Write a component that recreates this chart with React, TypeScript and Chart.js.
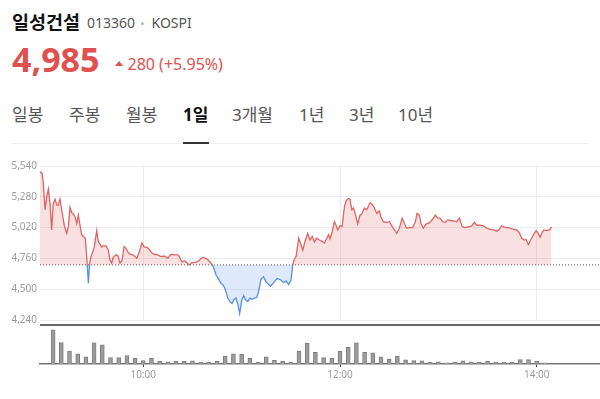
import React, { useEffect, useRef } from "react";
import { Chart, registerables } from "chart.js";

Chart.register(...registerables);

// ---------------- data ----------------
const STOCK_NAME = "일성건설";
const STOCK_CODE = "013360";
const MARKET = "KOSPI";
const LAST_PRICE = "4,985";
const CHANGE_TEXT = "280 (+5.95%)";
const PREV_CLOSE = 4705;

const TABS = ["일봉", "주봉", "월봉", "1일", "3개월", "1년", "3년", "10년"];
const ACTIVE_TAB = "1일";

// minutes relative to 09:00
const PRICE_TIMES = [
  -3.0, -1.8, -1.0, 0.1, 1.1, 2.1, 3.1, 4.1, 5.1, 6.2, 7.2, 8.2, 9.2, 10.2, 11.8, 13.3, 14.3, 15.3, 16.3, 17.3,
  18.4, 19.4, 20.4, 21.4, 22.4, 23.4, 24.6, 25.5, 26.5, 27.3, 28.1, 29.2, 30.1, 31.6, 32.6, 33.6, 34.6, 35.6, 37.3, 38.7,
  39.7, 40.7, 41.7, 43.4, 44.6, 45.8, 47.0, 48.3, 49.5, 50.5, 51.9, 53.6, 55.0, 56.0, 57.6, 59.2, 60.6, 62.1, 63.7, 65.3,
  66.7, 68.8, 70.8, 72.8, 74.9, 76.9, 78.9, 81.0, 82.0, 83.6, 85.0, 86.5, 88.1, 89.6, 91.1, 92.6, 94.2, 96.3, 97.9, 99.3,
  100.7, 101.9, 102.7, 104.4, 106.0, 107.4, 108.8, 110.1, 111.5, 112.9, 114.1, 115.5, 116.6, 117.8, 118.8, 120.1, 121.3, 122.3, 123.7, 125.1,
  126.3, 127.7, 129.2, 130.4, 131.8, 133.4, 134.9, 136.1, 137.6, 139.5, 141.6, 143.7, 145.6, 147.1, 148.6, 150.1, 151.2, 152.2, 153.2, 154.8,
  156.2, 157.3, 158.9, 160.3, 161.7, 163.0, 164.4, 165.8, 167.4, 169.5, 170.5, 171.9, 173.1, 173.9, 175.2, 176.6, 177.6, 178.6, 180.0, 181.3,
  182.7, 183.7, 185.1, 186.1, 187.2, 188.2, 189.2, 190.8, 192.2, 193.5, 194.9, 196.3, 198.4, 199.7, 201.0, 202.4, 204.0, 205.0, 206.4, 208.1,
  210.1, 211.8, 213.2, 214.6, 216.2, 217.9, 219.3, 220.7, 222.3, 224.3, 226.0, 227.0, 228.4, 229.4, 230.8, 232.5, 234.5, 236.5, 238.2, 239.6,
  241.0, 242.6, 244.3, 245.7, 247.7, 249.8, 251.2, 252.8, 254.5, 255.9, 257.9, 260.3, 262.0, 263.4, 265.4, 267.5, 269.5, 271.5, 273.6, 275.6,
  277.2, 278.6, 279.7, 281.7, 283.7, 285.8, 287.8, 289.4, 290.8, 292.3, 293.5, 294.9, 296.3, 298.0, 299.6, 301.0, 302.0, 303.5, 304.5, 306.1,
  307.7, 309.1,
];
const PRICE_VALUES = [
  5490, 5480, 5395, 5170, 5280, 5345, 5225, 5000, 5225, 5260, 5210, 5210, 5260, 5170, 5040, 4970, 5030, 5190, 5145, 5135,
  5110, 5055, 5125, 5040, 4960, 4945, 4930, 4775, 4550, 4720, 4775, 4815, 4855, 4995, 4900, 4880, 4855, 4865, 4865, 4830,
  4745, 4720, 4770, 4790, 4780, 4720, 4740, 4860, 4845, 4815, 4795, 4790, 4775, 4760, 4815, 4890, 4855, 4855, 4835, 4805,
  4795, 4790, 4775, 4780, 4760, 4795, 4790, 4790, 4775, 4730, 4740, 4725, 4705, 4725, 4725, 4730, 4745, 4770, 4760, 4750,
  4730, 4710, 4690, 4620, 4585, 4550, 4535, 4495, 4425, 4395, 4380, 4415, 4425, 4365, 4295, 4410, 4445, 4410, 4395, 4425,
  4415, 4425, 4430, 4480, 4585, 4605, 4560, 4545, 4525, 4555, 4590, 4580, 4555, 4570, 4540, 4575, 4705, 4755, 4775, 4930,
  4875, 4830, 4915, 4970, 4915, 4945, 4900, 4930, 4915, 4900, 4890, 4930, 4960, 4925, 4985, 5070, 5040, 5000, 5035, 5030,
  5195, 5245, 5265, 5260, 5170, 5185, 5140, 5050, 5125, 5140, 5185, 5170, 5230, 5215, 5185, 5140, 5160, 5110, 5070, 5065,
  5070, 5030, 5000, 4970, 5015, 5100, 5055, 5015, 5020, 5020, 5070, 5140, 5125, 5055, 5015, 5050, 5060, 5090, 5125, 5100,
  5100, 5070, 5065, 5085, 5080, 5075, 5070, 5100, 5030, 5020, 5025, 5035, 5065, 5040, 5040, 5035, 5015, 5005, 5000, 4990,
  5005, 5035, 5025, 5020, 5015, 5005, 5000, 4975, 4930, 4915, 4920, 4875, 4915, 4960, 4995, 4970, 4940, 4985, 5000, 4995,
  5000, 5025,
];

const VOLUME_TIMES = [
  5, 10, 15, 20, 25, 30, 35, 40, 45, 50, 55, 60, 65, 70, 75, 80, 85, 90, 95, 100,
  105, 110, 115, 120, 125, 130, 135, 140, 145, 150, 155, 160, 165, 170, 175, 180, 185, 190, 195, 200,
  205, 210, 215, 220, 225, 230, 235, 240, 245, 250, 255, 260, 265, 270, 275, 280, 285, 290, 295, 300,
  305,
];
const VOLUME_VALUES = [
  36000, 22700, 13700, 10700, 7700, 22300, 20300, 6700, 6700, 9000, 6000, 3700, 6300, 2700, 2300, 2700, 2700, 3300, 1700, 1700,
  2700, 8300, 10700, 10300, 6000, 1700, 7700, 4000, 2700, 2000, 13700, 21700, 12300, 6700, 6000, 13300, 17700, 22300, 12300, 11700,
  7700, 5000, 8300, 4300, 3700, 3300, 2000, 2300, 1300, 1700, 3300, 2000, 2000, 2700, 1700, 1700, 2000, 4700, 4700, 3000,
  1300,
];

const Y_TICKS = [4240, 4500, 4760, 5020, 5280, 5540];
const X_TICKS = [60, 180, 300];
const X_TICK_LABELS = ["10:00", "12:00", "14:00"];
const X_MIN = -3;
const X_MAX = 338.6;
const VOLUME_MAX = 38000;

// ---------------- styles ----------------
const FONT = "'Noto Sans', 'Noto Sans CJK KR', sans-serif";
const RED = "#e0504f";
const LINE_RED = "#de6464";
const LINE_BLUE = "#5a8ee6";
const FILL_RED = "rgba(224, 80, 80, 0.17)";
const FILL_BLUE = "rgba(70, 140, 240, 0.18)";
const TAB_X = [12, 69, 126, 183, 232, 299, 349, 398];

Chart.defaults.font.family = "'Noto Sans', sans-serif";

function splitColor(ctx: any, above: string, below: string) {
  const chart = ctx.chart;
  const area = chart.chartArea;
  const y = chart.scales && chart.scales.y;
  if (!area || !y) return above;
  const py = y.getPixelForValue(PREV_CLOSE);
  const r = Math.min(1, Math.max(0, (py - area.top) / (area.bottom - area.top)));
  const g = chart.ctx.createLinearGradient(0, area.top, 0, area.bottom);
  g.addColorStop(0, above);
  g.addColorStop(r, above);
  g.addColorStop(r, below);
  g.addColorStop(1, below);
  return g;
}

function textTop(baseline: number, size: number) {
  return baseline - 0.888 * size;
}

export default function App() {
  const priceRef = useRef<HTMLCanvasElement>(null);
  const volRef = useRef<HTMLCanvasElement>(null);

  useEffect(() => {
    const priceChart = new Chart(priceRef.current as HTMLCanvasElement, {
      type: "line",
      data: {
        datasets: [
          {
            data: PRICE_TIMES.map((t, i) => ({ x: t, y: PRICE_VALUES[i] })),
            borderColor: (ctx: any) => splitColor(ctx, LINE_RED, LINE_BLUE),
            borderWidth: 1.3,
            pointRadius: 0,
            tension: 0,
            fill: { target: { value: PREV_CLOSE }, above: FILL_RED, below: FILL_BLUE },
            order: 1,
          } as any,
          {
            data: [
              { x: X_MIN, y: PREV_CLOSE },
              { x: X_MAX, y: PREV_CLOSE },
            ],
            borderColor: "#555",
            borderWidth: 1,
            borderDash: [1, 2],
            pointRadius: 0,
            fill: false,
            order: -1,
          } as any,
        ],
      },
      options: {
        responsive: false,
        animation: false,
        events: [],
        layout: { padding: { top: 16, bottom: 10, left: 0, right: 0 } },
        plugins: { legend: { display: false }, tooltip: { enabled: false } },
        scales: {
          x: {
            type: "linear",
            min: X_MIN,
            max: X_MAX,
            afterBuildTicks: (s: any) => {
              s.ticks = X_TICKS.map((v) => ({ value: v }));
            },
            ticks: { display: false },
            grid: { color: "#ececec", drawTicks: false },
            border: { display: false },
          },
          y: {
            min: Y_TICKS[0],
            max: Y_TICKS[Y_TICKS.length - 1],
            afterBuildTicks: (s: any) => {
              s.ticks = Y_TICKS.map((v) => ({ value: v }));
            },
            afterFit: (s: any) => {
              s.width = 40;
            },
            ticks: {
              padding: 3,
              color: "#9a9a9a",
              font: { size: 10 },
              callback: (v: any) => Number(v).toLocaleString("en-US"),
            },
            grid: { color: "#ececec", drawTicks: false },
            border: { display: false },
          },
        },
      } as any,
    });

    const volChart = new Chart(volRef.current as HTMLCanvasElement, {
      type: "bar",
      data: {
        datasets: [
          {
            data: VOLUME_TIMES.map((t, i) => ({ x: t, y: VOLUME_VALUES[i] })),
            backgroundColor: "#9c9c9c",
            borderColor: "#7e7e7e",
            borderWidth: 1,
            barThickness: 4,
          } as any,
        ],
      },
      options: {
        responsive: false,
        animation: false,
        events: [],
        layout: { padding: { top: 2, bottom: 16, left: 40, right: 0 } },
        plugins: { legend: { display: false }, tooltip: { enabled: false } },
        scales: {
          x: {
            type: "linear",
            min: X_MIN,
            max: X_MAX,
            offset: false,
            afterBuildTicks: (s: any) => {
              s.ticks = X_TICKS.map((v) => ({ value: v }));
            },
            ticks: {
              color: "#9a9a9a",
              font: { size: 10 },
              padding: 2,
              maxRotation: 0,
              autoSkip: false,
              callback: (v: any) => X_TICK_LABELS[X_TICKS.indexOf(Number(v))] ?? "",
            },
            grid: {
              display: true,
              offset: false,
              drawOnChartArea: false,
              drawTicks: true,
              tickLength: 3,
              color: "#444",
            },
            border: { display: true, color: "#777", width: 1.5 },
          },
          y: { display: false, min: 0, max: VOLUME_MAX },
        },
      } as any,
    });

    return () => {
      priceChart.destroy();
      volChart.destroy();
    };
  }, []);

  const abs = (left: number, top: number, extra: React.CSSProperties = {}): React.CSSProperties => ({
    position: "absolute",
    left,
    top,
    lineHeight: 1,
    whiteSpace: "nowrap",
    ...extra,
  });

  return (
    <div
      style={{
        position: "fixed",
        left: 0,
        top: 0,
        width: 600,
        height: 399,
        background: "#fff",
        overflow: "hidden",
        fontFamily: FONT,
      }}
    >
      <div style={abs(12, textTop(29.5, 18.5), { fontSize: 18.5, fontWeight: 700, color: "#111" })}>{STOCK_NAME}</div>
      <div style={abs(87, textTop(28.3, 14), { fontSize: 14, color: "#555" })}>{STOCK_CODE}</div>
      <div style={abs(140.5, textTop(27.5, 10), { fontSize: 10, color: "#aaa" })}>•</div>
      <div style={abs(151.5, textTop(28.3, 14), { fontSize: 14, color: "#555" })}>{MARKET}</div>

      <div style={abs(12, textTop(71.7, 34), { fontSize: 34, fontWeight: 700, color: RED })}>{LAST_PRICE}</div>
      <div
        style={{
          position: "absolute",
          left: 115,
          top: 60.5,
          width: 0,
          height: 0,
          borderLeft: "4px solid transparent",
          borderRight: "4px solid transparent",
          borderBottom: "5px solid " + RED,
        }}
      />
      <div style={abs(127.5, textTop(70.7, 16), { fontSize: 16, color: RED })}>{CHANGE_TEXT}</div>

      {TABS.map((t, i) => (
        <div
          key={t}
          style={abs(TAB_X[i], textTop(120.8, 17), {
            fontSize: 17,
            color: t === ACTIVE_TAB ? "#111" : "#555",
            fontWeight: t === ACTIVE_TAB ? 700 : 400,
          })}
        >
          {t}
        </div>
      ))}
      <div style={{ position: "absolute", left: 12, top: 142.5, width: 576, height: 1, background: "#eeeeee" }} />
      <div
        style={{
          position: "absolute",
          left: TAB_X[TABS.indexOf(ACTIVE_TAB)],
          top: 141.5,
          width: 26,
          height: 2,
          background: "#333",
        }}
      />

      <canvas
        ref={priceRef}
        width={600}
        height={180}
        style={{ position: "absolute", left: 0, top: 150, display: "block" }}
      />
      <div style={{ position: "absolute", left: 40, top: 324, width: 560, height: 2, background: "#666" }} />
      <canvas
        ref={volRef}
        width={600}
        height={73}
        style={{ position: "absolute", left: 0, top: 326, display: "block" }}
      />
    </div>
  );
}
